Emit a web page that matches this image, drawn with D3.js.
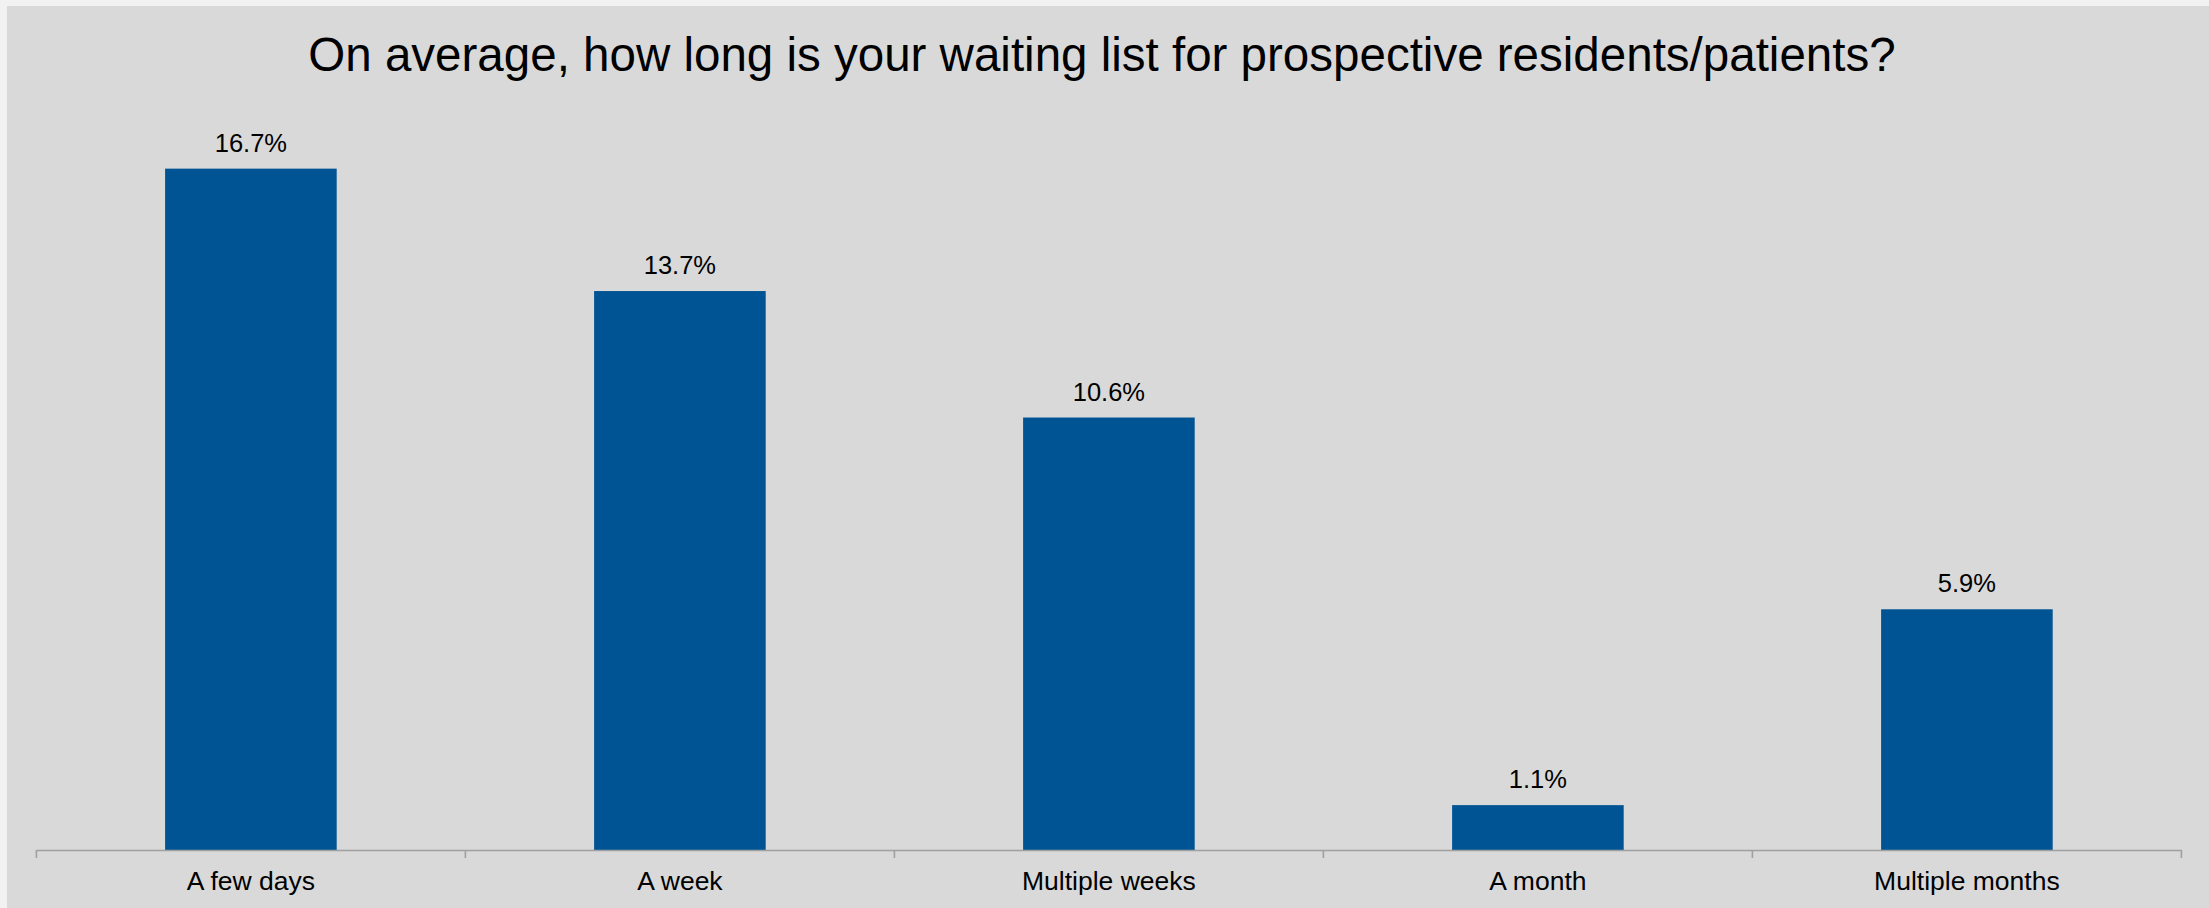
<!DOCTYPE html>
<html>
<head>
<meta charset="utf-8">
<script src="https://cdn.jsdelivr.net/npm/d3@7"></script>
<style>
  html, body { margin: 0; padding: 0; background: #f2f2f2; }
  svg { display: block; }
  text { font-family: "Liberation Sans", Arial, sans-serif; fill: #000; }
</style>
</head>
<body>
<svg id="chart" width="2209" height="908"></svg>
<script>
const titleText = "On average, how long is your waiting list for prospective residents/patients?";
const categories = ["A few days", "A week", "Multiple weeks", "A month", "Multiple months"];
const values = [16.7, 13.7, 10.6, 1.1, 5.9];
const valueLabels = ["16.7%", "13.7%", "10.6%", "1.1%", "5.9%"];

const W = 2209, H = 908;
const svg = d3.select("#chart");

// panel background
svg.append("rect").attr("x", 0).attr("y", 0).attr("width", W).attr("height", H).attr("fill", "#f2f2f2");
svg.append("rect").attr("x", 7).attr("y", 6).attr("width", W - 7).attr("height", H - 6).attr("fill", "#d9d9d9");

const axisY = 850;
const x = d3.scaleBand().domain(categories).range([36.4, 2181.4]).paddingInner(0.6).paddingOuter(0.3);
const y = d3.scaleLinear().domain([0, 18]).range([axisY, axisY - 18 * 40.8]);

// title
const title = svg.append("text")
  .attr("x", 1102).attr("y", 71)
  .attr("text-anchor", "middle")
  .style("font-size", "46px")
  .text(titleText);
const tw = title.node().getComputedTextLength();
title.style("font-size", (46 * 1588 / tw) + "px");

// bars
svg.append("g").selectAll("rect")
  .data(values)
  .join("rect")
  .attr("x", (d, i) => x(categories[i]))
  .attr("y", d => y(d))
  .attr("width", x.bandwidth())
  .attr("height", d => y(0) - y(d))
  .attr("fill", "#005493");

// value labels
svg.append("g").selectAll("text")
  .data(values)
  .join("text")
  .attr("x", (d, i) => x(categories[i]) + x.bandwidth() / 2)
  .attr("y", d => y(d) - 17)
  .attr("text-anchor", "middle")
  .style("font-size", "25.5px")
  .text((d, i) => valueLabels[i]);

// x axis
const axis = svg.append("g")
  .attr("transform", `translate(0,${axisY})`)
  .call(d3.axisBottom(x).tickSizeInner(0).tickSizeOuter(0).tickPadding(21));
axis.select(".domain").attr("stroke", "#a0a0a0").attr("stroke-width", 1.6);
axis.selectAll(".tick text")
  .style("font-family", '"Liberation Sans", Arial, sans-serif')
  .style("font-size", "26.5px")
  .attr("fill", "#000");

// boundary ticks
const bounds = [x.range()[0]].concat(categories.map(c => x(c) + x.bandwidth() / 2 + x.step() / 2));
svg.append("g").selectAll("line")
  .data(bounds)
  .join("line")
  .attr("x1", d => d).attr("x2", d => d)
  .attr("y1", axisY).attr("y2", axisY + 8)
  .attr("stroke", "#a0a0a0").attr("stroke-width", 1.6);
</script>
</body>
</html>
